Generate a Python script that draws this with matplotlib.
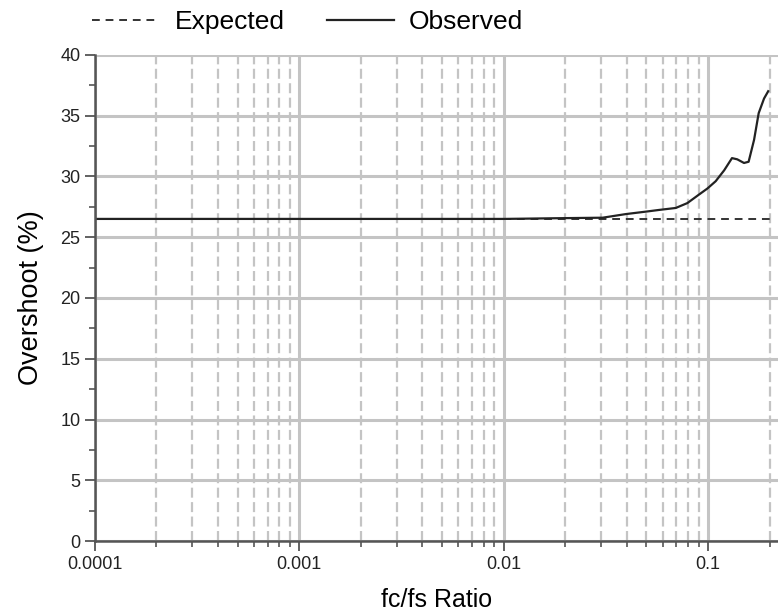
import matplotlib.pyplot as plt
from matplotlib.ticker import LogLocator, MultipleLocator, FixedFormatter, FixedLocator

plt.rcParams['font.family'] = ['Liberation Sans', 'DejaVu Sans']

# fc/fs ratio vs overshoot
ratio_obs = [0.0001, 0.001, 0.005, 0.01, 0.0125, 0.0188, 0.0305, 0.0397, 0.0497,
             0.0577, 0.0695, 0.0792, 0.0903, 0.0993, 0.109, 0.120, 0.131,
             0.139, 0.150, 0.158, 0.168, 0.177, 0.188, 0.197]
overshoot_obs = [26.5, 26.5, 26.5, 26.5, 26.52, 26.56, 26.6, 26.9, 27.1,
                 27.24, 27.4, 27.8, 28.5, 29.0, 29.6, 30.5, 31.5,
                 31.4, 31.1, 31.2, 33.0, 35.2, 36.4, 37.0]
ratio_exp = [0.0001, 0.2]
overshoot_exp = [26.5, 26.5]

fig = plt.figure(figsize=(7.78, 6.15), dpi=100)
ax = fig.add_axes([0.122, 0.120, 0.878, 0.791])

ax.set_xscale('log')
ax.set_xlim(0.0001, 0.22)
ax.set_ylim(0, 40)

ax.plot(ratio_exp, overshoot_exp, color='#333333', ls=(0, (4, 3)), lw=1.4, label='Expected')
ax.plot(ratio_obs, overshoot_obs, color='#222222', lw=1.6, label='Observed')

ax.xaxis.set_major_locator(FixedLocator([0.0001, 0.001, 0.01, 0.1]))
ax.xaxis.set_major_formatter(FixedFormatter(['0.0001', '0.001', '0.01', '0.1']))
ax.xaxis.set_minor_locator(LogLocator(base=10, subs=range(2, 10), numticks=20))
ax.yaxis.set_major_locator(MultipleLocator(5))
ax.yaxis.set_minor_locator(MultipleLocator(2.5))

ax.grid(True, which='major', color='#c4c4c4', lw=2.2)
ax.grid(True, which='minor', axis='x', color='#c4c4c4', lw=1.6, ls=(0, (4.5, 2)))
ax.set_axisbelow(True)

for s in ['top', 'right']:
    ax.spines[s].set_visible(False)
for s in ['left', 'bottom']:
    ax.spines[s].set_color('#555555')
    ax.spines[s].set_linewidth(1.8)

ax.tick_params(which='major', length=7, width=1.3, color='#555555', labelsize=13, labelcolor='#222222')
ax.tick_params(which='minor', length=4, width=1.2, color='#555555')

ax.set_xlabel('fc/fs Ratio', fontsize=18, labelpad=11)
ax.set_ylabel('Overshoot (%)', fontsize=19.5, labelpad=12)

fig.legend(loc='upper left', bbox_to_anchor=(0.088, 1.022), ncol=2, frameon=False,
           fontsize=19, handlelength=2.55, handletextpad=0.57, columnspacing=1.6)

plt.savefig('out.png', dpi=100)
